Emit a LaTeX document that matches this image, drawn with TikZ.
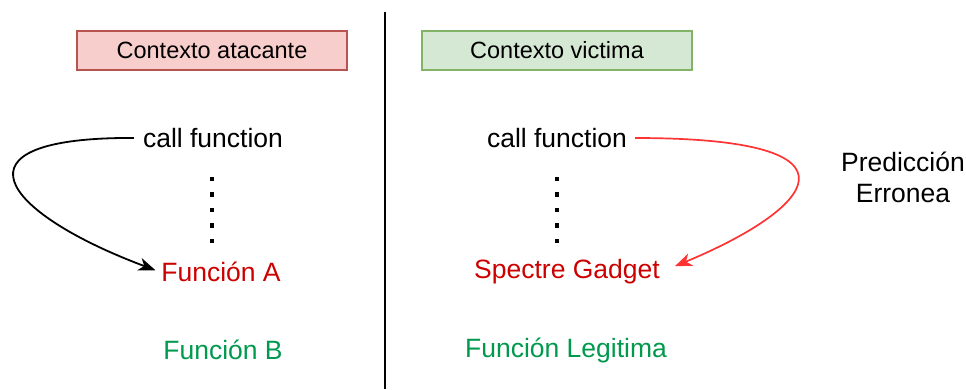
\documentclass[tikz,border=0pt]{standalone}
\usepackage{fontspec}
\setmainfont{Liberation Sans}
\usetikzlibrary{arrows.meta}
\definecolor{pinkfill}{HTML}{F8CECC}
\definecolor{pinkline}{HTML}{B85450}
\definecolor{greenfill}{HTML}{D5E8D4}
\definecolor{greenline}{HTML}{82B366}
\definecolor{funcred}{HTML}{CC0000}
\definecolor{funcgreen}{HTML}{00994D}
\definecolor{arrowred}{HTML}{FF3333}
\tikzset{
  ctxbox/.style={draw, line width=1.8pt, minimum width=270pt, minimum height=39pt,
    inner sep=0pt, font=\fontsize{23.5}{27}\selectfont},
  label/.style={inner sep=1pt, font=\fontsize{26.5}{31}\selectfont},
  dot/.style={rectangle, fill=black, inner sep=0pt, minimum size=4.5pt},
  jump/.style={line width=1.8pt, -{Stealth[length=17pt,width=13pt,inset=5pt]}},
}
\begin{document}
\begin{tikzpicture}[x=1pt,y=-1pt]
  \useasboundingbox (0,0) rectangle (966,389);
  % separator between the two contexts
  \draw[line width=1.8pt] (385,12) -- (385,389);

  % attacker side
  \node[ctxbox, fill=pinkfill, draw=pinkline] (ctxA) at (212,50.5) {Contexto atacante};
  \node[label] (callA) at (213,138) {call function};
  \foreach \y [count=\i] in {179,194.5,210,225.5,241}
    \node[dot] (dA\i) at (212,\y) {};
  \node[label, text=funcred] (funA) at (221,272) {Función A};
  \node[label, text=funcgreen] (funB) at (223,350) {Función B};

  % victim side
  \node[ctxbox, fill=greenfill, draw=greenline] (ctxV) at (557,50.5) {Contexto victima};
  \node[label] (callV) at (557,138) {call function};
  \foreach \y [count=\i] in {179,194.5,210,225.5,241}
    \node[dot] (dV\i) at (557,\y) {};
  \node[label, text=funcred] (gadget) at (567,272) {Spectre Gadget};
  \node[label, text=funcgreen] (legit) at (566,350) {Función Legitima};
  \node[label, align=center] (pred) at (903,177) {Predicción\\Erronea};

  % call targets
  \draw[jump, shorten <=8pt, shorten >=5pt] (callA.west) .. controls (-55,137) and (0,212) .. (funA.west);
  \draw[jump, draw=arrowred, line width=1.7pt, shorten <=7pt, shorten >=15pt]
    (callV.east) .. controls (880,138) and (810,210) .. (gadget.east);
\end{tikzpicture}
\end{document}
